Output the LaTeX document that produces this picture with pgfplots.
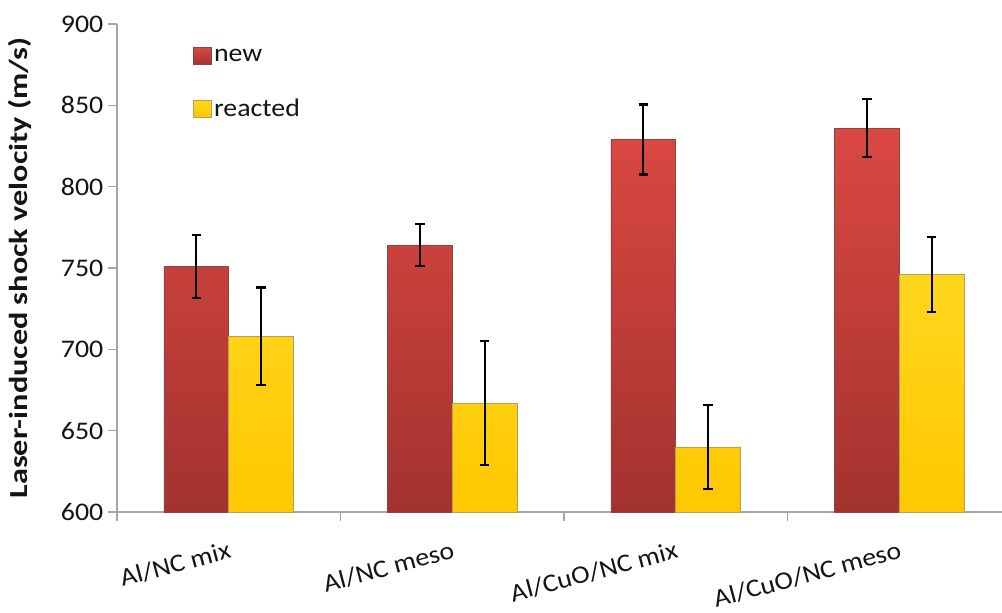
\documentclass[border=0pt]{standalone}
\usepackage{fontspec}
\setmainfont{Carlito}[FakeStretch=1.1]
\newfontfamily\ylabelfont{Carlito}[FakeStretch=1.24, BoldFeatures={FakeStretch=1.24}]
\usepackage{pgfplots}
\usepackage{pgfplotstable}
\pgfplotsset{compat=1.18}

\definecolor{axisgray}{RGB}{165,165,165}
\definecolor{redtop}{RGB}{219,72,66}
\definecolor{redbot}{RGB}{163,50,47}
\definecolor{rededge}{RGB}{135,70,65}
\definecolor{yeltop}{RGB}{255,214,30}
\definecolor{yelbot}{RGB}{255,200,0}
\definecolor{yeledge}{RGB}{180,160,90}

% shock velocity (m/s) with error half-widths
\pgfplotstableread{
x new newerr reacted reactederr
0 751 19.5 708 30
1 764 13 667 38
2 829 21.5 640 26
3 836 18 746 23
}\velocity

\begin{document}
\begin{tikzpicture}
\begin{axis}[
  scale only axis,
  width=670.5pt, height=366pt,
  xmin=-0.5, xmax=3.5,
  ymin=600, ymax=900,
  ytick={600,650,...,900},
  axis x line*=bottom, axis y line*=left,
  axis line style={draw=axisgray, line width=0.9pt},
  every tick/.style={draw=axisgray, line width=0.9pt},
  tick align=outside,
  major tick length=6.75pt,
  xtick={-0.5,0.5,1.5,2.5},
  xticklabels={},
  extra x ticks={0,1,2,3},
  extra x tick labels={Al/NC mix, Al/NC meso, Al/CuO/NC mix, Al/CuO/NC meso},
  extra x tick style={major tick length=0pt,
    tick label style={rotate=15, anchor=north east, yshift=-17pt, xshift=-3pt}},
  /pgf/number format/assume math mode=true,
  tick label style={font=\fontsize{19}{22}\selectfont, text=black!92},
  ylabel={\ylabelfont\bfseries Laser-induced shock velocity (m/s)},
  ylabel style={font=\fontsize{19.5}{22}\selectfont, at={(axis description cs:-0.1085,0.5)},
    anchor=center, text=black!92},
  ybar=0pt,
  bar width=0.29,
  legend style={at={(rel axis cs:0.085,0.955)}, anchor=north west, draw=none, fill=none,
    font=\fontsize{19}{22}\selectfont, row sep=23pt, inner sep=0pt,
    legend cell align=left, text=black!92},
  clip=false,
]
\addplot[top color=redtop, bottom color=redbot, draw=rededge, line width=0.6pt,
  legend image code/.code={\path[top color=redtop, bottom color=redbot, draw=rededge, line width=0.6pt] (0pt,-6.5pt) rectangle (13pt,6.5pt);},
  error bars/.cd, y dir=both, y explicit,
  error bar style={draw=black, line width=1.6pt, shade=false, fill=none},
  error mark options={draw=black, line width=1.6pt, mark size=3.5pt, rotate=90}]
  table[x=x, y=new, y error=newerr] {\velocity};
\addlegendentry{new}
\addplot[top color=yeltop, bottom color=yelbot, draw=yeledge, line width=0.6pt,
  legend image code/.code={\path[top color=yeltop, bottom color=yelbot, draw=yeledge, line width=0.6pt] (0pt,-6.5pt) rectangle (13pt,6.5pt);},
  error bars/.cd, y dir=both, y explicit,
  error bar style={draw=black, line width=1.6pt, shade=false, fill=none},
  error mark options={draw=black, line width=1.6pt, mark size=3.5pt, rotate=90}]
  table[x=x, y=reacted, y error=reactederr] {\velocity};
\addlegendentry{reacted}
\end{axis}
\pgfresetboundingbox
\path ([shift={(-87.75pt,-75.75pt)}]current axis.south west) rectangle ([shift={(-6.75pt,18pt)}]current axis.north east);
\end{tikzpicture}
\end{document}
